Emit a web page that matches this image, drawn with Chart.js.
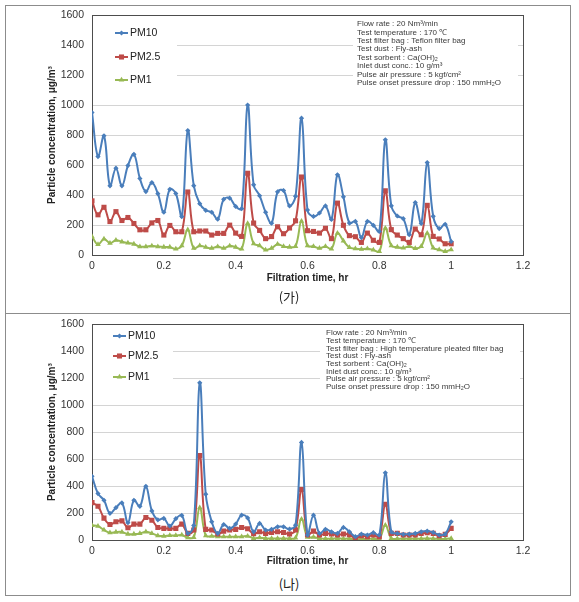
<!DOCTYPE html>
<html>
<head>
<meta charset="utf-8">
<script src="https://cdn.jsdelivr.net/npm/chart.js@4.4.1/dist/chart.umd.min.js"></script>
<style>
body { margin: 0; background: #fff; }
#frame { position: absolute; left: 5px; top: 5px; width: 564px; height: 589px; border: 1px solid #8c8c8c; }
#divider { position: absolute; left: 5px; top: 313px; width: 566px; height: 1px; background: #8c8c8c; }
.cap { position: absolute; left: 239px; width: 100px; text-align: center; font: 13px "Noto Sans CJK KR", sans-serif; color: #222; line-height: 16px; }
canvas { position: absolute; left: 0; }
</style>
</head>
<body>
<div id="frame"></div>
<div id="divider"></div>
<canvas id="chartA" width="579" height="292" style="top:0"></canvas>
<canvas id="chartB" width="579" height="262" style="top:310px"></canvas>
<div class="cap" style="top:289px">(가)</div>
<div class="cap" style="top:576px">(나)</div>
<script>
// sampling minutes (plotted as hours)
const minutes = [0, 1, 2, 3, 4, 5, 6, 7, 8, 9, 10, 11, 12, 13, 14, 15, 16, 17, 18, 19, 20,
	21, 22, 23, 24, 25, 26, 27, 28, 29, 30, 31, 32, 33, 34, 35, 36, 37, 38, 39, 40,
	41, 42, 43, 44, 45, 46, 47, 48, 49, 50, 51, 52, 53, 54, 55, 56, 57, 58, 59, 60];

const xTicks = [0, 0.2, 0.4, 0.6, 0.8, 1, 1.2];
const yTicks = [0, 200, 400, 600, 800, 1000, 1200, 1400, 1600];
const seriesNames = ['PM10', 'PM2.5', 'PM1'];

// (가) Teflon filter bag
const pm10A = [950, 656, 795, 461, 579, 461, 596, 671, 510, 423, 483, 409, 285, 438, 410, 256,
	830, 462, 342, 298, 285, 239, 371, 379, 324, 309, 1000, 468, 395, 285, 212, 421,
	430, 327, 392, 912, 300, 257, 280, 327, 237, 535, 388, 213, 224, 116, 224, 198,
	157, 768, 328, 260, 242, 135, 350, 210, 616, 258, 176, 205, 90];
const pm25A = [361, 268, 318, 223, 289, 230, 250, 210, 168, 168, 214, 230, 133, 197, 155, 155,
	420, 155, 160, 160, 133, 144, 144, 199, 146, 124, 545, 213, 164, 109, 123, 188,
	142, 180, 228, 520, 162, 157, 146, 178, 109, 346, 198, 129, 122, 84, 146, 98,
	84, 428, 169, 133, 109, 84, 173, 135, 331, 124, 107, 75, 75];
const pm1A = [123, 70, 107, 79, 99, 88, 80, 73, 56, 56, 61, 56, 53, 53, 40, 62,
	168, 45, 62, 52, 45, 56, 45, 61, 52, 41, 210, 76, 62, 34, 45, 72,
	57, 53, 58, 226, 62, 57, 45, 57, 41, 145, 94, 50, 42, 39, 42, 34,
	24, 179, 62, 53, 47, 58, 44, 58, 145, 47, 36, 24, 36];

// (나) High temperature pleated filter bag
const pm10B = [473, 344, 295, 198, 240, 275, 128, 295, 250, 398, 216, 150, 160, 104, 158, 182,
	49, 108, 1166, 340, 135, 49, 115, 86, 118, 184, 164, 61, 123, 74, 79, 98,
	98, 81, 110, 724, 37, 184, 49, 79, 61, 49, 93, 61, 25, 44, 37, 54,
	37, 498, 61, 49, 42, 44, 49, 61, 66, 56, 37, 44, 135];
const pm25B = [277, 250, 162, 115, 135, 142, 91, 118, 118, 167, 147, 93, 86, 86, 86, 118,
	49, 74, 626, 79, 74, 44, 66, 74, 79, 93, 83, 46, 61, 49, 56, 61,
	56, 44, 74, 375, 37, 66, 37, 49, 44, 37, 44, 40, 12, 32, 25, 37,
	25, 265, 49, 49, 37, 37, 37, 49, 54, 49, 32, 42, 86];
const pm1B = [108, 103, 74, 54, 59, 59, 44, 44, 49, 61, 49, 32, 29, 34, 34, 37,
	17, 20, 240, 32, 29, 25, 25, 25, 25, 25, 29, 12, 17, 12, 12, 12,
	12, 12, 15, 155, 22, 22, 12, 10, 10, 12, 10, 10, 5, 8, 8, 10,
	8, 110, 12, 10, 10, 10, 10, 10, 12, 10, 8, 8, 12];

const notesA = [
	'Flow rate : 20 Nm³/min',
	'Test temperature : 170 ℃',
	'Test filter bag : Teflon filter bag',
	'Test dust : Fly-ash',
	'Test sorbent : Ca(OH)₂',
	'Inlet dust conc.: 10 g/m³',
	'Pulse air pressure : 5 kgf/cm²',
	'Pulse onset pressure drop : 150 mmH₂O',
];
const notesB = [
	'Flow rate : 20 Nm³/min',
	'Test temperature : 170 ℃',
	'Test filter bag : High temperature pleated filter bag',
	'Test dust : Fly-ash',
	'Test sorbent : Ca(OH)₂',
	'Inlet dust conc.: 10 g/m³',
	'Pulse air pressure : 5 kgf/cm²',
	'Pulse onset pressure drop : 150 mmH₂O',
];

const colors = ['#4a7ebb', '#be4b48', '#98b954'];
const markers = [
	{ style: 'rectRot', radius: 2.6 },
	{ style: 'rect', radius: 3.6 },
	{ style: 'triangle', radius: 3.2 },
];
const FONT = '"Liberation Sans", Arial, sans-serif';

function toPoints(values) {
	return values.map((v, i) => ({ x: minutes[i] / 60, y: v }));
}

function makeDatasets(seriesList) {
	return seriesList.map((values, i) => ({
		label: seriesNames[i],
		data: toPoints(values),
		borderColor: colors[i],
		backgroundColor: colors[i],
		borderWidth: 2,
		tension: 0.4,
		pointStyle: markers[i].style,
		pointRadius: markers[i].radius,
		pointBorderWidth: 0,
		pointHoverRadius: markers[i].radius,
	}));
}

// white boxes for legend and notes, plot frame, legend and notes text
function makeExtras(cfg) {
	return {
		id: 'extras',
		beforeDatasetsDraw(chart) {
			const ctx = chart.ctx;
			const a = chart.chartArea;
			ctx.save();
			ctx.fillStyle = '#fff';
			ctx.fillRect(cfg.legendBox[0], cfg.legendBox[1], cfg.legendBox[2], cfg.legendBox[3]);
			ctx.fillRect(cfg.noteBox[0], cfg.noteBox[1], cfg.noteBox[2], cfg.noteBox[3]);

			ctx.strokeStyle = '#4d4d4d';
			ctx.lineWidth = 1;
			ctx.strokeRect(Math.round(a.left) + 0.5, Math.round(a.top) + 0.5,
				Math.round(a.right - a.left), Math.round(a.bottom - a.top));

			ctx.fillStyle = '#3a3a3a';
			ctx.font = cfg.noteFont + 'px ' + FONT;
			ctx.textBaseline = 'middle';
			ctx.textAlign = 'left';
			cfg.notes.forEach((t, i) => ctx.fillText(t, cfg.noteX, cfg.noteY + i * cfg.noteStep));

			ctx.font = '10.5px ' + FONT;
			ctx.fillStyle = '#222';
			chart.data.datasets.forEach((ds, i) => {
				const y = cfg.legendY[i];
				const x0 = cfg.legendX;
				ctx.strokeStyle = colors[i];
				ctx.lineWidth = 2;
				ctx.beginPath();
				ctx.moveTo(x0, y);
				ctx.lineTo(x0 + 13, y);
				ctx.stroke();
				ctx.fillStyle = colors[i];
				Chart.helpers.drawPoint(ctx, { pointStyle: markers[i].style, radius: markers[i].radius, rotation: 0, borderWidth: 0 }, x0 + 6.5, y);
				ctx.fillStyle = '#222';
				ctx.fillText(ds.label, x0 + 15, y + 0.5);
			});
			ctx.restore();
		}
	};
}

function makeChart(id, seriesList, cfg) {
	const ctx = document.getElementById(id);
	return new Chart(ctx, {
		type: 'line',
		data: { datasets: makeDatasets(seriesList) },
		options: {
			responsive: false,
			animation: false,
			layout: { padding: { top: cfg.padTop, right: 56, left: 0, bottom: 0 } },
			plugins: { legend: { display: false }, tooltip: { enabled: false } },
			scales: {
				x: {
					type: 'linear',
					min: xTicks[0],
					max: xTicks[xTicks.length - 1],
					afterBuildTicks: (scale) => { scale.ticks = xTicks.map(v => ({ value: v })); },
					afterFit: (scale) => { scale.height = cfg.xHeight; },
					grid: { display: false, drawTicks: false },
					border: { display: false },
					ticks: {
						padding: 5,
						color: '#333',
						font: { family: FONT, size: 10.5 },
						callback: (v) => String(Number(v.toFixed(1))),
					},
					title: {
						display: true,
						text: 'Filtration time, hr',
						color: '#222',
						font: { family: FONT, size: 10, weight: 'bold' },
						padding: { top: 0, bottom: cfg.xTitlePad },
					},
				},
				y: {
					min: yTicks[0],
					max: yTicks[yTicks.length - 1],
					afterBuildTicks: (scale) => { scale.ticks = yTicks.map(v => ({ value: v })); },
					afterFit: (scale) => { scale.width = 92; },
					grid: { color: '#d4d4d4', lineWidth: 1, drawTicks: false },
					border: { display: false },
					ticks: {
						padding: 8,
						color: '#333',
						font: { family: FONT, size: 10.5 },
						callback: (v) => String(v),
					},
					title: {
						display: true,
						text: 'Particle concentration, μg/m³',
						color: '#222',
						font: { family: FONT, size: 10, weight: 'bold' },
						padding: { top: 46, bottom: 0 },
					},
				},
			},
		},
		plugins: [makeExtras(cfg)],
	});
}

makeChart('chartA', [pm10A, pm25A, pm1A], {
	padTop: 15, xHeight: 37, xTitlePad: 8,
	legendBox: [93, 17, 84, 75], noteBox: [353, 17, 165, 73],
	legendX: 115, legendY: [33, 57, 80],
	notes: notesA, noteX: 357, noteY: 24, noteStep: 8.4, noteFont: 8,
});

makeChart('chartB', [pm10B, pm25B, pm1B], {
	padTop: 13, xHeight: 32, xTitlePad: 5,
	legendBox: [93, 15, 80, 66], noteBox: [320, 15, 200, 68],
	legendX: 113, legendY: [26, 46, 67],
	notes: notesB, noteX: 326, noteY: 23, noteStep: 7.7, noteFont: 8,
});
</script>
</body>
</html>
